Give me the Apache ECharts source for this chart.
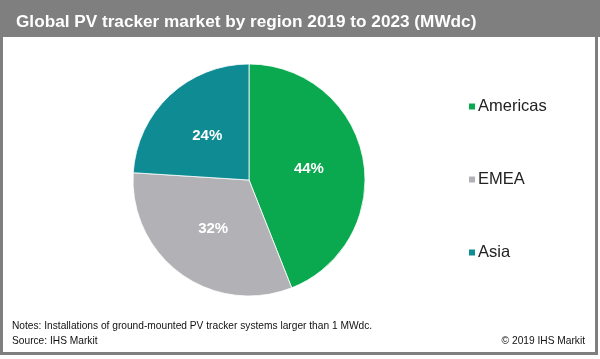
<!DOCTYPE html>
<html>
<head>
<meta charset="utf-8">
<script src="https://cdn.jsdelivr.net/npm/echarts@6/dist/echarts.min.js"></script>
<style>html,body{margin:0;padding:0;background:#fff}#c{width:600px;height:359px}</style>
</head>
<body>
<div id="c"></div>
<script>
const regions = ["Americas", "EMEA", "Asia"];
const shares = [44, 32, 24];
const colors = ["#0aa84f", "#b2b2b6", "#0f8b94"];

const chart = echarts.init(document.getElementById('c'));
chart.setOption({
  animation: false,
  title: {
    text: "Global PV tracker market by region 2019 to 2023 (MWdc)",
    left: 11, top: 9,
    textStyle: { color: "#fff", fontFamily: "Liberation Sans, Arial", fontWeight: "bold", fontSize: 17.2 }
  },
  legend: {
    orient: "vertical",
    left: 462, top: 93,
    itemGap: 56,
    itemWidth: 8, itemHeight: 8,
    icon: "rect",
    textStyle: { color: "#222", fontFamily: "Liberation Sans, Arial", fontSize: 16.5, padding: [0,0,0,-3] },
    data: regions
  },
  graphic: [
    { type: "rect", shape: { x: 0, y: 0, width: 600, height: 37 }, style: { fill: "#7f7f7f" }, z: -1 },
    { type: "rect", shape: { x: 1.5, y: 1.5, width: 595, height: 352 }, style: { fill: "none", stroke: "#7f7f7f", lineWidth: 3 }, z: -1 },
    { type: "text", left: 12, top: 321, style: { text: "Notes: Installations of ground-mounted PV tracker systems larger than 1 MWdc.", fill: "#111", font: "10.2px Liberation Sans, Arial" } },
    { type: "text", left: 12, top: 336, style: { text: "Source: IHS Markit", fill: "#111", font: "10.2px Liberation Sans, Arial" } },
    { type: "text", right: 15, top: 336, style: { text: "© 2019 IHS Markit", fill: "#111", font: "10.2px Liberation Sans, Arial" } }
  ],
  series: [{
    type: "pie",
    center: [249, 180],
    radius: 116,
    startAngle: 90,
    clockwise: true,
    itemStyle: { borderColor: "#fff", borderWidth: 0.8 },
    label: {
      position: "inside",
      formatter: "{c}%",
      color: "#fff",
      fontFamily: "Liberation Sans, Arial",
      fontWeight: "bold",
      fontSize: 15
    },
    labelLine: { show: false },
    emphasis: { disabled: true },
    data: regions.map((r, i) => ({ name: r, value: shares[i], itemStyle: { color: colors[i] } }))
  }]
});
</script>
</body>
</html>
